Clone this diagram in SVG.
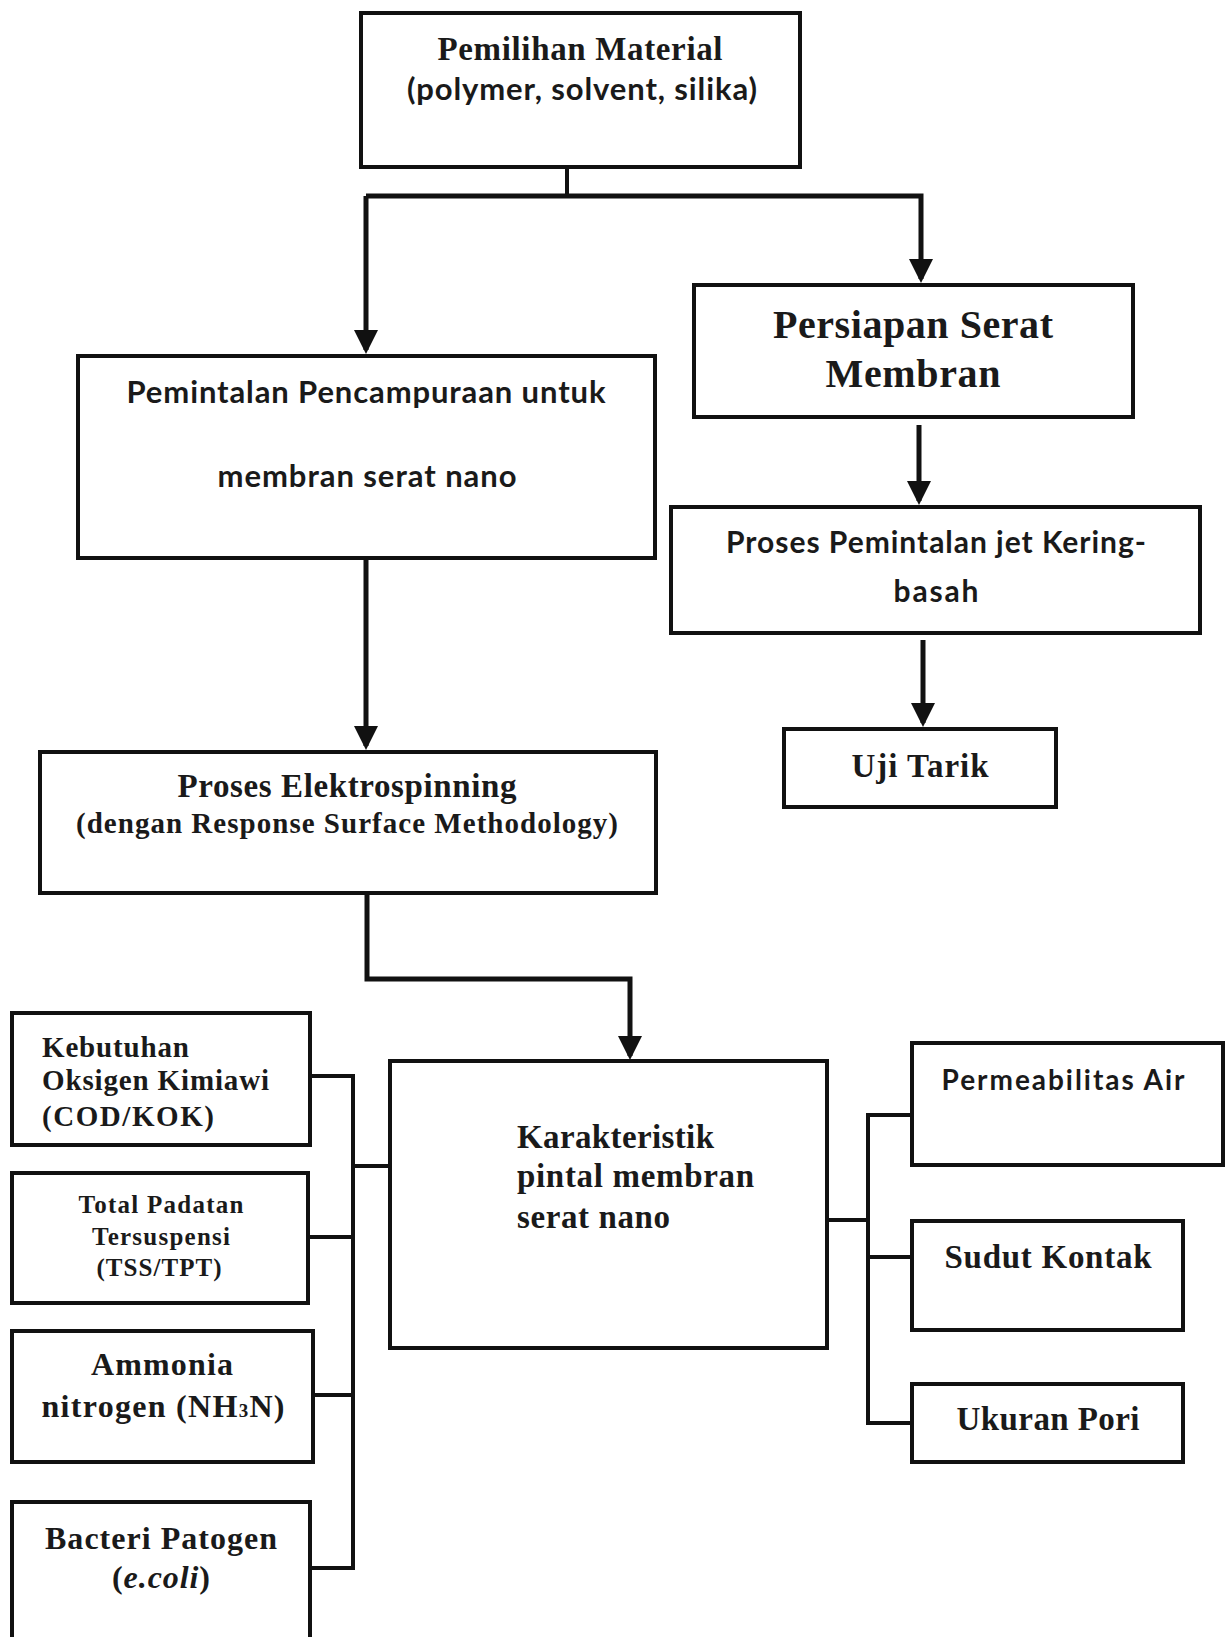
<svg xmlns="http://www.w3.org/2000/svg" width="1225" height="1637" viewBox="0 0 1225 1637">
<style>
.box{fill:#fff;stroke:#111;stroke-width:4}
.ser{font-family:"Liberation Serif","Times New Roman",serif;font-weight:bold;fill:#1a1a1a}
.san{font-family:Lato,"Liberation Sans",sans-serif;font-weight:bold;fill:#1a1a1a}
.mid{text-anchor:middle}
.con{fill:none;stroke:#111;stroke-width:4}
.arr{fill:none;stroke:#111;stroke-width:5;marker-end:url(#ah)}
</style>
<defs>
<marker id="ah" markerUnits="userSpaceOnUse" viewBox="0 0 24 24" markerWidth="24" markerHeight="24" refX="20" refY="12" orient="auto">
<path d="M0,0 L24,12 L0,24 z" fill="#111"/>
</marker>
</defs>
<rect width="1225" height="1637" fill="#fff"/>

<g id="connectors">
<path class="con" d="M567,167 V196"/>
<path class="arr" d="M366,196 V350"/>
<path class="arr" d="M366,196 H921 V279"/>
<path class="arr" d="M919,425 V501"/>
<path class="arr" d="M923,640 V723"/>
<path class="arr" d="M366,559 V746"/>
<path class="arr" d="M367,893 V979 H630 V1056"/>
<path class="con" d="M310,1076 H353 V1568 H310"/>
<path class="con" d="M308,1237 H353"/>
<path class="con" d="M313,1395 H353"/>
<path class="con" d="M353,1166 H390"/>
<path class="con" d="M827,1220 H868"/>
<path class="con" d="M912,1115 H868 V1423 H912"/>
<path class="con" d="M868,1257 H912"/>
</g>

<g id="pemilihan">
<rect class="box" x="361" y="13" width="439" height="154"/>
<text class="ser mid" x="580" y="60" font-size="33" textLength="285">Pemilihan Material</text>
<text class="san mid" x="582" y="100" font-size="31" textLength="350">(polymer, solvent, silika)</text>
</g>

<g id="persiapan">
<rect class="box" x="694" y="285" width="439" height="132"/>
<text class="ser mid" x="913" y="338" font-size="40" textLength="280">Persiapan Serat</text>
<text class="ser mid" x="913" y="387" font-size="40" textLength="175">Membran</text>
</g>

<g id="pemintalan">
<rect class="box" x="78" y="356" width="577" height="202"/>
<text class="san mid" x="366" y="403" font-size="31" textLength="479">Pemintalan Pencampuraan untuk</text>
<text class="san mid" x="367" y="487" font-size="31" textLength="299">membran serat nano</text>
</g>

<g id="proses-jet">
<rect class="box" x="671" y="507" width="529" height="126"/>
<text class="san mid" x="936" y="553" font-size="30" textLength="420">Proses Pemintalan jet Kering-</text>
<text class="san mid" x="936" y="602" font-size="30" textLength="85">basah</text>
</g>

<g id="uji-tarik">
<rect class="box" x="784" y="729" width="272" height="78"/>
<text class="ser mid" x="920" y="777" font-size="33" textLength="137">Uji Tarik</text>
</g>

<g id="elektrospinning">
<rect class="box" x="40" y="752" width="616" height="141"/>
<text class="ser mid" x="347" y="797" font-size="33" textLength="339">Proses Elektrospinning</text>
<text class="ser mid" x="347" y="833" font-size="29" textLength="542">(dengan Response Surface Methodology)</text>
</g>

<g id="karakteristik">
<rect class="box" x="390" y="1061" width="437" height="287"/>
<text class="ser" x="517" y="1148" font-size="33" textLength="197">Karakteristik</text>
<text class="ser" x="517" y="1187" font-size="33" textLength="237">pintal membran</text>
<text class="ser" x="517" y="1228" font-size="33" textLength="153">serat nano</text>
</g>

<g id="cod">
<rect class="box" x="12" y="1013" width="298" height="132"/>
<text class="ser" x="42" y="1057" font-size="29" textLength="147">Kebutuhan</text>
<text class="ser" x="42" y="1090" font-size="29" textLength="227">Oksigen Kimiawi</text>
<text class="ser" x="42" y="1126" font-size="29" textLength="172">(COD/KOK)</text>
</g>

<g id="tss">
<rect class="box" x="12" y="1173" width="296" height="130"/>
<text class="ser mid" x="161" y="1213" font-size="25" textLength="165">Total Padatan</text>
<text class="ser mid" x="161" y="1245" font-size="25" textLength="138">Tersuspensi</text>
<text class="ser mid" x="159" y="1276" font-size="25" textLength="125">(TSS/TPT)</text>
</g>

<g id="ammonia">
<rect class="box" x="12" y="1331" width="301" height="131"/>
<text class="ser mid" x="162" y="1375" font-size="32" textLength="142">Ammonia</text>
<text class="ser mid" x="163" y="1417" font-size="32" textLength="243">nitrogen (NH<tspan font-size="19">3</tspan>N)</text>
</g>

<g id="bacteri">
<rect class="box" x="12" y="1502" width="298" height="150"/>
<text class="ser mid" x="161" y="1549" font-size="32" textLength="232">Bacteri Patogen</text>
<text class="ser mid" x="161" y="1588" font-size="32" textLength="98">(<tspan font-style="italic">e.coli</tspan>)</text>
</g>

<g id="permeabilitas">
<rect class="box" x="912" y="1043" width="311" height="122"/>
<text class="san mid" x="1063" y="1090" font-size="28" textLength="243">Permeabilitas Air</text>
</g>

<g id="sudut">
<rect class="box" x="912" y="1221" width="271" height="109"/>
<text class="ser mid" x="1048" y="1268" font-size="33" textLength="207">Sudut Kontak</text>
</g>

<g id="ukuran">
<rect class="box" x="912" y="1384" width="271" height="78"/>
<text class="ser mid" x="1048" y="1430" font-size="33" textLength="183">Ukuran Pori</text>
</g>
</svg>
